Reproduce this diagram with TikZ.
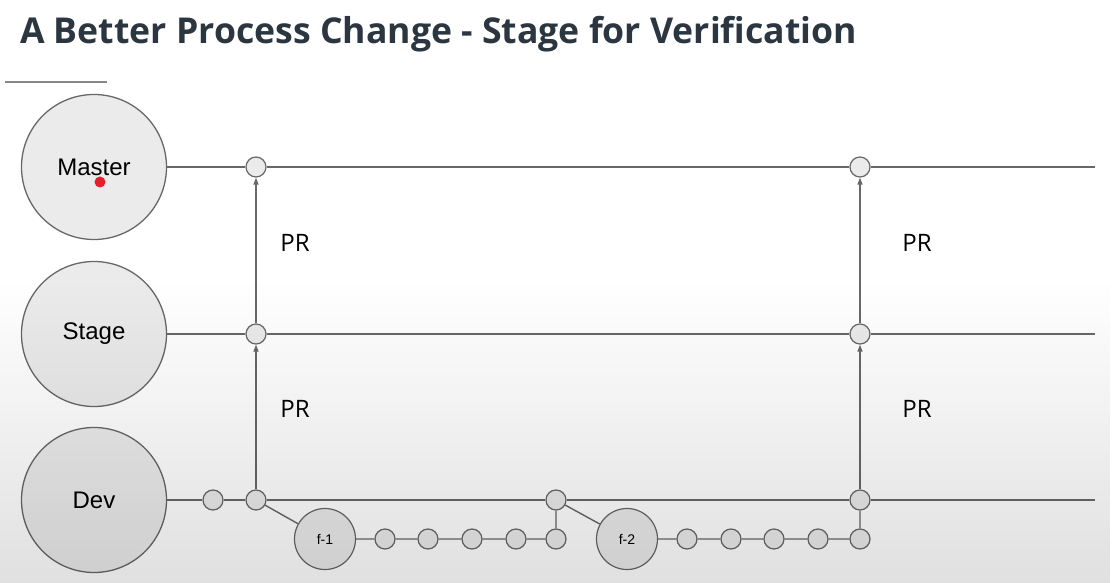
\documentclass[tikz,border=0pt]{standalone}
\usepackage{fontspec}
\setmainfont{Liberation Sans}
\newfontfamily\opensans{Open Sans}
\usetikzlibrary{arrows.meta,fadings}
\definecolor{titlegray}{RGB}{43,54,64}
\definecolor{linegray}{RGB}{104,104,104}
\definecolor{nodegray}{RGB}{235,235,235}
\definecolor{dotred}{RGB}{232,30,45}

\begin{document}
\begin{tikzpicture}[x=1pt, y=-1pt,
	branch/.style={circle, draw=linegray, line width=1.3pt, fill=nodegray, minimum size=145pt, inner sep=0pt, font=\fontsize{24}{28}\selectfont},
	feature/.style={circle, draw=linegray, line width=1.2pt, fill=nodegray, minimum size=61pt, inner sep=0pt, font=\fontsize{14}{16}\selectfont},
	commit/.style={circle, draw=linegray, line width=1.2pt, fill=nodegray, minimum size=20pt, inner sep=0pt},
	link/.style={draw=linegray, line width=1.4pt},
	pr/.style={link, -{Triangle[length=7pt,width=5pt]}},
	prlabel/.style={font=\opensans\fontsize{24}{28}\selectfont}]

	\useasboundingbox (0,0) rectangle (1112,583);
	\fill[white] (0,0) rectangle (1112,583);

	%title
	\node[anchor=base west, inner sep=0pt, text=titlegray, font=\opensans\bfseries\fontsize{35.6}{42}\selectfont] (title) at (20,44) {A Better Process Change - Stage for Verification};
	\draw[linegray!80, line width=1.3pt] (5,82) -- (107,82);

	%branches
	\node[branch] (master) at (94,167) {Master};
	\node[branch] (stage) at (94,334) {Stage};
	\node[branch] (dev) at (94,500) {Dev};
	\coordinate (masterend) at (1095,167);
	\coordinate (stageend) at (1095,334);
	\coordinate (devend) at (1095,500);

	%commits
	\node[commit] (m1) at (256,167) {};
	\node[commit] (m2) at (860,167) {};
	\node[commit] (s1) at (256,334) {};
	\node[commit] (s2) at (860,334) {};
	\node[commit] (d0) at (213,500) {};
	\node[commit] (d1) at (256,500) {};
	\node[commit] (d2) at (556,500) {};
	\node[commit] (d3) at (860,500) {};

	%feature branches
	\node[feature] (f1) at (325,539) {f-1};
	\foreach \x [count=\i] in {385,428,472,516,556}
		\node[commit] (a\i) at (\x,539) {};
	\node[feature] (f2) at (627,539) {f-2};
	\foreach \x [count=\i] in {687,731,774,818,860}
		\node[commit] (b\i) at (\x,539) {};

	%lines
	\draw[link] (master) -- (m1) -- (m2) -- (masterend);
	\draw[link] (stage) -- (s1) -- (s2) -- (stageend);
	\draw[link] (dev) -- (d0) -- (d1) -- (d2) -- (d3) -- (devend);
	\draw[link] (d1) -- (f1) -- (a1) -- (a2) -- (a3) -- (a4) -- (a5) -- (d2);
	\draw[link] (d2) -- (f2) -- (b1) -- (b2) -- (b3) -- (b4) -- (b5) -- (d3);

	%pull requests
	\draw[pr] (d1) -- (s1);
	\draw[pr] (s1) -- (m1);
	\draw[pr] (d3) -- (s2);
	\draw[pr] (s2) -- (m2);
	\node[prlabel] (pr1) at (295,243) {PR};
	\node[prlabel] (pr2) at (295,409) {PR};
	\node[prlabel] (pr3) at (917,243) {PR};
	\node[prlabel] (pr4) at (917,409) {PR};

	%pointer
	\fill[dotred] (100,182) circle (5.5);

	%shadow
	\fill[black, opacity=0.12, path fading=north] (0,280) rectangle (1112,583);
\end{tikzpicture}
\end{document}
